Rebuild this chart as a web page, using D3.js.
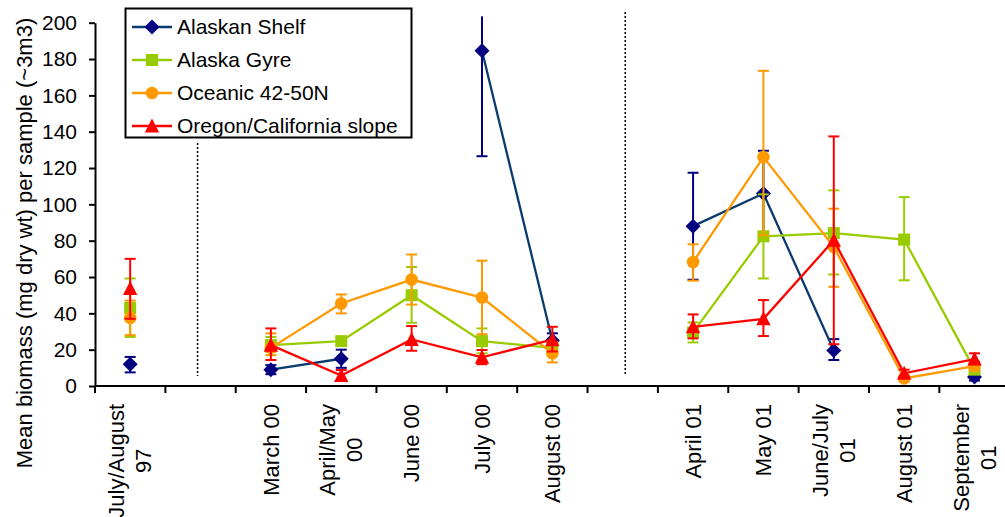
<!DOCTYPE html>
<html>
<head>
<meta charset="utf-8">
<script src="https://cdn.jsdelivr.net/npm/d3@7"></script>
<style>
  html, body { margin: 0; padding: 0; background: #fff; }
  svg { display: block; font-family: "Liberation Sans", Arial, sans-serif; }
</style>
</head>
<body>
<svg id="chart" width="1005" height="517"></svg>
<script>
// ---- data ----
const categories = ["JulAug97", "gap1", "Mar00", "AprMay00", "Jun00", "Jul00", "Aug00", "gap2", "Apr01", "May01", "JunJul01", "Aug01", "Sep01"];
const tickLabels = [["July/August", "97"], [], ["March 00"], ["April/May", "00"], ["June 00"], ["July 00"], ["August 00"], [], ["April 01"], ["May 01"], ["June/July", "01"], ["August 01"], ["September", "01"]];
const yTicks = [0, 20, 40, 60, 80, 100, 120, 140, 160, 180, 200];
const seriesNames = ["Alaskan Shelf", "Alaska Gyre", "Oceanic 42-50N", "Oregon/California slope"];

const shelfMean = [12, null, 9, 15, null, 184.6, 25, null, 88, 106, 19.5, null, 5];
const shelfLow  = [7.5, null, 6.5, 10, null, 126.5, 21, null, 58.5, 82, 14.3, null, 3];
const shelfHigh = [16, null, 11.5, 20, null, 203.5, 29, null, 117.4, 129.5, 25.8, null, 7];

const gyreMean = [43, null, 22.5, 24.7, 50, 24.7, 21, null, 29.5, 82.4, 84.2, 80.6, 9];
const gyreLow  = [27, null, 18.8, 23, 34.8, 18, 18, null, 24, 59.2, 61.4, 58.2, 7];
const gyreHigh = [59.2, null, 27, 26.5, 65.5, 31.7, 24, null, 35, 105.5, 107.7, 104, 11];

const oceanicMean = [37.5, null, 21, 45.4, 58.6, 48.7, 18, null, 68.3, 126, 76.6, 4.2, 11];
const oceanicLow  = [28, null, 17, 40, 44.8, 28.5, 13, null, 58, 83, 54.6, 2.5, 8.5];
const oceanicHigh = [47, null, 29, 50.4, 72.4, 69, 23, null, 78, 173.5, 97.6, 6, 13.5];

const oregonMean = [53.7, null, 22.5, 5.8, 25.6, 15.8, 25.5, null, 32.6, 37, 80.2, 7, 14.8];
const oregonLow  = [37, null, 14.3, 3, 19.4, 12, 19, null, 26.2, 27.5, 23, 5, 12];
const oregonHigh = [70, null, 31.7, 8.8, 33, 19.8, 32.6, null, 39.4, 47.3, 137.4, 9, 18];

const separators = ["gap1", "gap2"];
const separatorTop = [143, 12];

// ---- layout ----
const svg = d3.select("#chart");
const plotLeft = 95, plotRight = 1009.7, plotTop = 22.7, plotBottom = 386;
const x = d3.scaleBand().domain(categories).range([plotLeft, plotRight]);
const y = d3.scaleLinear().domain([0, 200]).range([plotBottom, plotTop]);
const cx = c => x(c) + x.bandwidth() / 2;

const series = [
  { name: seriesNames[0], mean: shelfMean, low: shelfLow, high: shelfHigh, line: "#0b3b6e", color: "#000080", shape: "diamond" },
  { name: seriesNames[1], mean: gyreMean, low: gyreLow, high: gyreHigh, line: "#99cc00", color: "#99cc00", shape: "square" },
  { name: seriesNames[2], mean: oceanicMean, low: oceanicLow, high: oceanicHigh, line: "#ff9900", color: "#ff9900", shape: "circle" },
  { name: seriesNames[3], mean: oregonMean, low: oregonLow, high: oregonHigh, line: "#ff0000", color: "#ff0000", shape: "triangle" }
];

function markerPath(shape) {
  switch (shape) {
    case "diamond": return "M0,-7.5L7.5,0L0,7.5L-7.5,0Z";
    case "square": return "M-6,-6H6V6H-6Z";
    case "circle": return d3.symbol().type(d3.symbolCircle).size(Math.PI * 6.3 * 6.3)();
    case "triangle": return "M0,-7.5L7.2,6.5L-7.2,6.5Z";
  }
}

// separators (dotted)
svg.selectAll("line.sep").data(separators).join("line").attr("class", "sep")
  .attr("x1", (d, i) => cx(d) + (i === 0 ? -3 : 2.5)).attr("x2", (d, i) => cx(d) + (i === 0 ? -3 : 2.5))
  .attr("y1", (d, i) => separatorTop[i]).attr("y2", plotBottom - 10)
  .attr("stroke", "#000").attr("stroke-width", 1.5).attr("stroke-dasharray", "2,2");

// y axis
const yAxis = svg.append("g").attr("transform", `translate(${plotLeft},0)`)
  .call(d3.axisLeft(y).tickValues(yTicks).tickSize(6).tickPadding(12).tickSizeOuter(0));
yAxis.select(".domain").attr("stroke", "#000").attr("stroke-width", 2);
yAxis.selectAll(".tick line").attr("stroke", "#000").attr("stroke-width", 2);
yAxis.selectAll(".tick text").attr("font-size", 21).attr("fill", "#000")
  .attr("font-family", "'Liberation Sans', Arial, sans-serif");

// x axis line and ticks at band boundaries
svg.append("line").attr("x1", plotLeft).attr("x2", plotRight).attr("y1", plotBottom).attr("y2", plotBottom)
  .attr("stroke", "#000").attr("stroke-width", 2);
const boundaries = categories.map(c => x(c)).concat([x(categories[categories.length - 1]) + x.bandwidth()]);
svg.selectAll("line.xt").data(boundaries).join("line").attr("class", "xt")
  .attr("x1", d => d).attr("x2", d => d).attr("y1", plotBottom).attr("y2", plotBottom + 7)
  .attr("stroke", "#000").attr("stroke-width", 2);

// x labels (rotated)
const labelTop = 404;
const lg = svg.selectAll("g.xl").data(categories).join("g").attr("class", "xl")
  .attr("transform", d => `translate(${cx(d)},${labelTop}) rotate(-90)`);
lg.each(function (d, i) {
  const lines = tickLabels[i];
  const g = d3.select(this);
  const n = lines.length;
  const texts = lines.map((t, k) => g.append("text").text(t)
    .attr("font-size", 22).attr("fill", "#000")
    .attr("text-anchor", "middle")
    .attr("dy", "0.35em")
    .attr("y", (k - (n - 1) / 2) * 27));
  const maxLen = d3.max(texts, t => t.node().getComputedTextLength()) || 0;
  texts.forEach(t => t.attr("x", -maxLen / 2));
});

// y title
svg.append("text").attr("transform", "translate(32,243) rotate(-90)")
  .attr("text-anchor", "middle").attr("font-size", 22).attr("fill", "#000")
  .text("Mean biomass (mg dry wt)  per sample (~3m3)");

// series
const lineGen = d3.line().defined(d => d.v != null).x(d => cx(d.c)).y(d => y(d.v));
series.forEach(s => {
  const pts = categories.map((c, i) => ({ c, v: s.mean[i], lo: s.low[i], hi: s.high[i] }));
  const g = svg.append("g");
  const eb = pts.filter(p => p.v != null);
  g.selectAll("line.eb").data(eb).join("line")
    .attr("x1", p => cx(p.c)).attr("x2", p => cx(p.c))
    .attr("y1", p => y(p.lo)).attr("y2", p => y(p.hi))
    .attr("stroke", s.color).attr("stroke-width", 2);
  const caps = [];
  eb.forEach(p => { caps.push({ c: p.c, v: p.lo }); if (p.hi <= 200) caps.push({ c: p.c, v: p.hi }); });
  g.selectAll("line.cap").data(caps).join("line")
    .attr("x1", p => cx(p.c) - 5.5).attr("x2", p => cx(p.c) + 5.5)
    .attr("y1", p => y(p.v)).attr("y2", p => y(p.v))
    .attr("stroke", s.color).attr("stroke-width", 2);
  g.append("path").attr("d", lineGen(pts)).attr("fill", "none")
    .attr("stroke", s.line).attr("stroke-width", 2.3);
  g.selectAll("path.m").data(eb).join("path")
    .attr("d", markerPath(s.shape))
    .attr("transform", p => `translate(${cx(p.c)},${y(p.v)})`)
    .attr("fill", s.color);
});

// legend
const legend = svg.append("g");
legend.append("rect").attr("x", 125.5).attr("y", 8.5).attr("width", 286).attr("height", 129)
  .attr("fill", "#fff").attr("stroke", "#000").attr("stroke-width", 2);
series.forEach((s, i) => {
  const ly = 27 + i * 33;
  legend.append("line").attr("x1", 132).attr("x2", 172).attr("y1", ly).attr("y2", ly)
    .attr("stroke", s.line).attr("stroke-width", 2.3);
  legend.append("path").attr("d", markerPath(s.shape)).attr("transform", `translate(152,${ly})`).attr("fill", s.color);
  legend.append("text").attr("x", 177).attr("y", ly).attr("dy", "0.35em")
    .attr("font-size", 21).attr("fill", "#000").text(s.name);
});
</script>
</body>
</html>
